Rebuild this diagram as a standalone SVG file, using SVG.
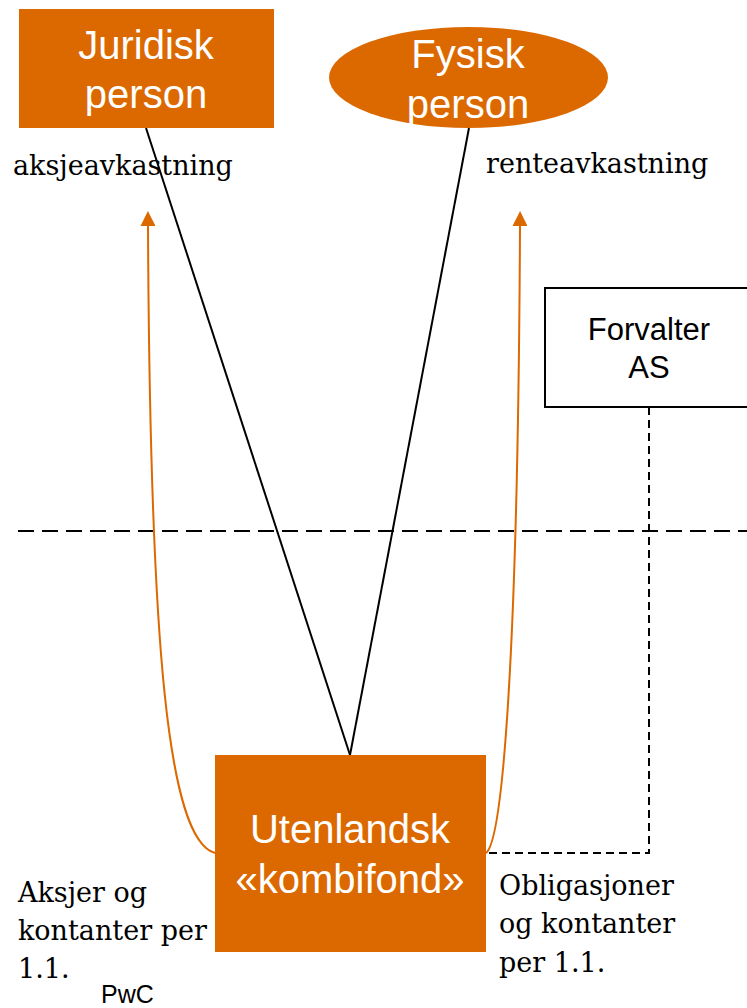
<svg xmlns="http://www.w3.org/2000/svg" width="747" height="1008" viewBox="0 0 747 1008">
<style>
.node{fill:#DC6900}
.wt{font-family:"Liberation Sans",Arial,sans-serif;font-size:40px;fill:#fff;text-anchor:middle}
.bt{font-family:"Liberation Sans",Arial,sans-serif;font-size:31px;fill:#000;text-anchor:middle}
.lbl{font-family:"DejaVu Serif","Liberation Serif",serif;font-size:27px;fill:#000}
.line{stroke:#000;stroke-width:2;fill:none}
.orange{stroke:#DC6900;stroke-width:2;fill:none}
</style>
<defs>
<marker id="arr" viewBox="0 0 10 10" refX="0" refY="5" markerWidth="15" markerHeight="15" markerUnits="userSpaceOnUse" orient="auto">
<path d="M0,0 L10,5 L0,10 z" fill="#DC6900"/>
</marker>
</defs>
<rect width="747" height="1008" fill="#fff"/>
<g id="boundary">
<line x1="18" y1="531" x2="747" y2="531" stroke="#000" stroke-width="2" stroke-dasharray="16,8"/>
</g>
<g id="connectors">
<line class="line" x1="146" y1="128" x2="350" y2="755"/>
<line class="line" x1="469" y1="128" x2="350" y2="755"/>
<path class="orange" d="M215,853 C168,840 150,650 148,226" marker-end="url(#arr)"/>
<path class="orange" d="M486,853 C503,840 518,650 520,226" marker-end="url(#arr)"/>
<path d="M649,407 L649,853 L486,853" stroke="#000" stroke-width="2" fill="none" stroke-dasharray="8,5"/>
</g>
<g id="juridisk">
<rect class="node" x="19" y="9" width="255" height="119"/>
<text class="wt" x="146" y="59">Juridisk</text>
<text class="wt" x="146" y="108">person</text>
</g>
<g id="fysisk">
<ellipse class="node" cx="468.5" cy="77.5" rx="139.5" ry="50.5"/>
<text class="wt" x="468" y="68">Fysisk</text>
<text class="wt" x="468" y="118">person</text>
</g>
<g id="forvalter">
<rect x="545" y="288" width="210" height="119" fill="#fff" stroke="#000" stroke-width="2"/>
<text class="bt" x="649" y="340">Forvalter</text>
<text class="bt" x="649" y="378">AS</text>
</g>
<g id="kombifond">
<rect class="node" x="215" y="755" width="271" height="197"/>
<text class="wt" x="350" y="843">Utenlandsk</text>
<text class="wt" x="350" y="893">«kombifond»</text>
</g>
<g id="labels">
<text class="lbl" x="13" y="175">aksjeavkastning</text>
<text class="lbl" x="486" y="173">renteavkastning</text>
<text class="lbl" x="18" y="902">Aksjer og</text>
<text class="lbl" x="18" y="940">kontanter per</text>
<text class="lbl" x="18" y="978">1.1.</text>
<text class="lbl" x="499" y="895">Obligasjoner</text>
<text class="lbl" x="499" y="933">og kontanter</text>
<text class="lbl" x="499" y="972">per 1.1.</text>
<text x="101" y="1003" font-family="Liberation Sans,Arial,sans-serif" font-size="25" fill="#000">PwC</text>
</g>
</svg>
